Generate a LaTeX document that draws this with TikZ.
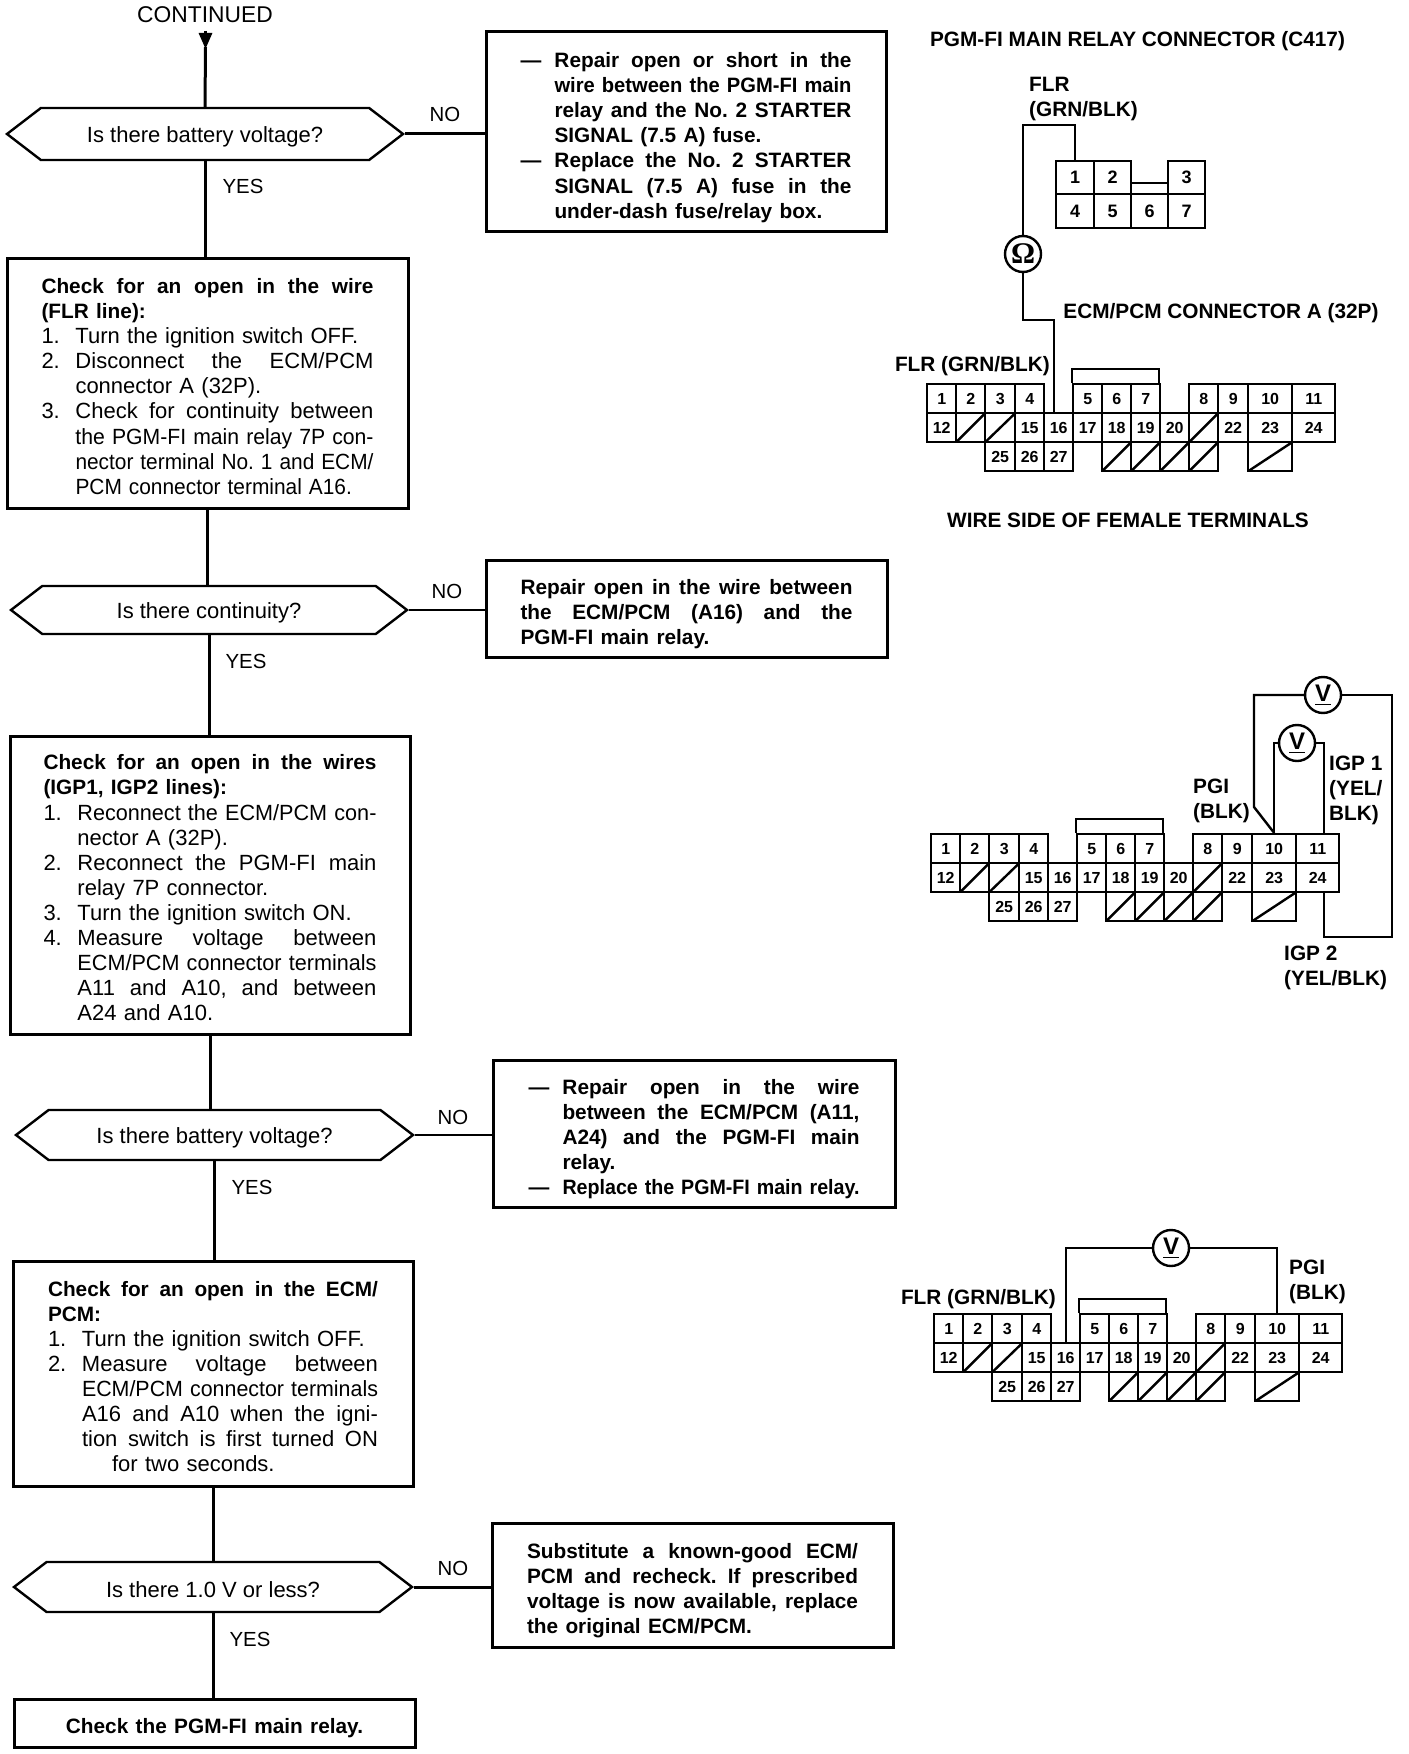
\documentclass[tikz,border=0pt]{standalone}
\usepackage{fontspec}
\setmainfont{Liberation Sans}
\newfontfamily\meterfont{Liberation Serif}
\frenchspacing
\usetikzlibrary{shapes.symbols,arrows.meta}

\newsavebox{\linebox}
% set a line to an exact width, widening the spaces or squeezing the line
\newcommand{\fitline}[2]{\leavevmode\sbox{\linebox}{#2}%
  \ifdim\wd\linebox>#1\relax\resizebox{#1}{\height}{\usebox{\linebox}}%
  \else\hbox to #1{\spaceskip=.278em plus 1fil\relax #2}\fi}
\newcommand{\bd}{\fontsize{10.4}{12.55}\selectfont\bfseries}
\newcommand{\fl}[1]{\fitline{\dimexpr\tw\relax}{#1}}
\newcommand{\il}[2]{\makebox[17pt][l]{#1}\fitline{\dimexpr\tw-17pt\relax}{#2}}
\newcommand{\el}[2]{\makebox[17pt][l]{#1}#2}
\newcommand{\squeezed}[3]{\makebox[17pt][l]{#1}\scalebox{#2}[1]{#3}}

% one ECM/PCM 32P connector, nodes are called <prefix>-<terminal>
\newcommand{\ecmconn}[3]{
  \begin{scope}[shift={(#2,#3)},name prefix=#1-]
    \foreach \n/\cx/\cy/\cw in {1/0/0/29,2/29/0/29,3/58/0/30,4/88/0/29,5/146/0/29,6/175/0/29,7/204/0/29,
      8/262/0/29,9/291/0/30,10/321/0/44,11/365/0/43,
      12/0/29/29,15/88/29/29,16/117/29/29,17/146/29/29,18/175/29/29,19/204/29/29,20/233/29/29,
      22/291/29/30,23/321/29/44,24/365/29/43,
      25/58/58/30,26/88/58/29,27/117/58/29}
      \node[term cell,minimum width=\cw*0.5pt] (\n) at (\cx,\cy) {\n};
    \foreach \n/\cx/\cy/\cw in {13/29/29/29,14/58/29/30,21/262/29/29,
      28/175/58/29,29/204/58/29,30/233/58/29,31/262/58/29,32/321/58/44}
      \node[blank cell,minimum width=\cw*0.5pt] (\n) at (\cx,\cy) {};
    \draw (146,0) -- (146,-14) -- (233,-14) -- (233,0);
  \end{scope}
}

\begin{document}
\begin{tikzpicture}[x=0.5pt,y=-0.5pt,line width=1.2pt,
  main box/.style 2 args={rectangle,draw,line width=1.5pt,inner sep=0pt,align=left,text width=#1,
    execute at begin node={\def\tw{#1}\rule{0pt}{#2}\ignorespaces},
    font=\fontsize{11}{12.55}\selectfont},
  dec node/.style={signal,signal to=east and west,signal pointer angle=75,draw,line width=1.2pt,
    inner sep=0pt,execute at begin node={\rule{0pt}{10.5pt}\ignorespaces},
    font=\fontsize{11}{12.55}\selectfont},
  term cell/.style={rectangle,draw,anchor=north west,minimum height=14.5pt,inner sep=0pt,
    font=\fontsize{8}{9}\selectfont\bfseries},
  blank cell/.style={term cell,path picture={\draw (path picture bounding box.south west) -- (path picture bounding box.north east);}},
  relay cell/.style={term cell,font=\fontsize{9}{10}\selectfont\bfseries},
  meter node/.style={circle,draw,fill=white,line width=1.2pt,minimum size=18pt,inner sep=0pt,
    font=\fontsize{12}{12}\selectfont\bfseries},
  wire label/.style={inner sep=0pt,align=left,font=\fontsize{10.4}{12.5}\selectfont\bfseries},
  answer label/.style={inner sep=0pt,font=\fontsize{10.2}{12}\selectfont}]

  \useasboundingbox (0,0) rectangle (1408,1754);

  % flow chart
  \node[answer label,font=\fontsize{11.4}{12}\selectfont] (cont) at (205,15) {CONTINUED};
  \coordinate (d0) at (205.5,31);
  \coordinate (d00) at (205.5,47);

  \node[dec node,minimum width=198pt,minimum height=26pt] (q1) at (205,134) {Is there battery voltage?};
  \node[main box={165.5pt}{13pt},minimum width=200pt,minimum height=100pt] (no1) at (686,132) {\bd
    \il{---}{Repair open or short in the}\\
    \il{}{wire between the PGM-FI main}\\
    \il{}{relay and the No. 2 STARTER}\\
    \el{}{SIGNAL (7.5 A) fuse.}\\
    \il{---}{Replace the No. 2 STARTER}\\
    \il{}{SIGNAL (7.5 A) fuse in the}\\
    \el{}{under-dash fuse/relay box.}};
  \node[main box={166pt}{10.5pt},minimum width=200.5pt,minimum height=124.5pt] (b2) at (207.5,383.5) {
    {\bd\fl{Check for an open in the wire}}\\
    {\bd(FLR line):}\\
    \el{1.}{Turn the ignition switch OFF.}\\
    \il{2.}{Disconnect the ECM/PCM}\\
    \el{}{connector A (32P).}\\
    \il{3.}{Check for continuity between}\\
    \il{}{the PGM-FI main relay 7P con-}\\
    \il{}{nector terminal No. 1 and ECM/}\\
    \squeezed{}{0.95}{PCM connector terminal A16.}};

  \node[dec node,minimum width=198pt,minimum height=24pt] (q2) at (209,610) {Is there continuity?};
  \node[main box={166pt}{13pt},minimum width=200.5pt,minimum height=48.5pt] (no2) at (686.5,608.5) {\bd
    \fl{Repair open in the wire between}\\
    \fl{the ECM/PCM (A16) and the}\\
    PGM-FI main relay.};
  \node[main box={166.5pt}{10.5pt},minimum width=200pt,minimum height=149pt] (b3) at (210,885) {
    {\bd\fl{Check for an open in the wires}}\\
    {\bd(IGP1, IGP2 lines):}\\
    \il{1.}{Reconnect the ECM/PCM con-}\\
    \el{}{nector A (32P).}\\
    \il{2.}{Reconnect the PGM-FI main}\\
    \el{}{relay 7P connector.}\\
    \el{3.}{Turn the ignition switch ON.}\\
    \il{4.}{Measure voltage between}\\
    \il{}{ECM/PCM connector terminals}\\
    \il{}{A11 and A10, and between}\\
    \el{}{A24 and A10.}};

  \node[dec node,minimum width=198.5pt,minimum height=25pt] (q3) at (214.5,1135) {Is there battery voltage?};
  \node[main box={165.5pt}{13pt},minimum width=201pt,minimum height=73.5pt] (no3) at (694,1133.5) {\bd
    \il{---}{Repair open in the wire}\\
    \il{}{between the ECM/PCM (A11,}\\
    \il{}{A24) and the PGM-FI main}\\
    \el{}{relay.}\\
    \il{---}{Replace the PGM-FI main relay.}};
  \node[main box={165pt}{10.5pt},minimum width=200pt,minimum height=112.5pt] (b4) at (213,1373.5) {
    {\bd\fl{Check for an open in the ECM/}}\\
    {\bd PCM:}\\
    \el{1.}{Turn the ignition switch OFF.}\\
    \il{2.}{Measure voltage between}\\
    \il{}{ECM/PCM connector terminals}\\
    \il{}{A16 and A10 when the igni-}\\
    \il{}{tion switch is first turned ON}\\
    \hspace*{32pt}for two seconds.};

  \node[dec node,minimum width=199pt,minimum height=25pt] (q4) at (213,1587) {Is there 1.0 V or less?};
  \node[main box={165.5pt}{13pt},minimum width=200.5pt,minimum height=62pt] (no4) at (692.5,1585) {\bd
    \fl{Substitute a known-good ECM/}\\
    \fl{PCM and recheck. If prescribed}\\
    \fl{voltage is now available, replace}\\
    the original ECM/PCM.};
  \node[main box={165.5pt}{13pt},minimum width=200.5pt,minimum height=24pt,align=center] (b5) at (214.5,1723) {\bd Check the PGM-FI main relay.};

  \node[answer label] (n1) at (445,114) {NO};
  \node[answer label] (y1) at (243,186) {YES};
  \node[answer label] (n2) at (447,591) {NO};
  \node[answer label] (y2) at (246,661) {YES};
  \node[answer label] (n3) at (453,1117) {NO};
  \node[answer label] (y3) at (252,1187) {YES};
  \node[answer label] (n4) at (453,1568) {NO};
  \node[answer label] (y4) at (250,1639) {YES};

  \path[line width=1.5pt]
  (d0) edge [-{Triangle[length=8pt,width=6.5pt]},shorten >=-1pt] (d00)
  (d00) edge [] (q1.north)

  (q1.south) edge [] (q1.south |- b2.north)
  (q1.east)  edge [] (q1.east -| no1.west)
  (b2.south) edge [] (b2.south |- q2.north)
  (q2.south) edge [] (q2.south |- b3.north)
  (b3.south) edge [] (b3.south |- q3.north)
  (q3.south) edge [] (q3.south |- b4.north)
  (b4.south) edge [] (q4.north)
  (q4.south) edge [] (q4.south |- b5.north)
  (q4.east)  edge [] (q4.east -| no4.west);
  \path[line width=1pt]
  (q2.east)  edge [] (q2.east -| no2.west)
  (q3.east)  edge [] (q3.east -| no3.west);

  % relay connector
  \node[wire label] (t1) at (1137.5,41) {PGM-FI MAIN RELAY CONNECTOR (C417)};
  \node[wire label,anchor=west] (t2) at (1028,99) {FLR\\(GRN/BLK)};
  \node[wire label] (t3) at (1221,313) {ECM/PCM CONNECTOR A (32P)};
  \node[wire label,anchor=east] (t4) at (1051,366) {FLR (GRN/BLK)};
  \node[wire label] (t5) at (1128,520) {WIRE SIDE OF FEMALE TERMINALS};

  \foreach \n/\cx/\cy/\cw/\ch in {1/1055/160/38/33,2/1093/160/37/33,3/1167/160/37/33,
    4/1055/193/38/34,5/1093/193/37/34,6/1130/193/37/34,7/1167/193/37/34}
    \node[relay cell,minimum width=\cw*0.5pt,minimum height=\ch*0.5pt] (r\n) at (\cx,\cy) {\n};
  \draw[line width=1pt] ([yshift=-2.5pt]r2.east) -- ([yshift=-2.5pt]r3.west);

  \ecmconn{a}{926}{383}

  \node[meter node] (om) at (1023,254) {\fontsize{15}{15}\selectfont\meterfont\bfseries Ω};
  \coordinate (d1) at (1023,125);
  \coordinate (d2) at (1054,320);
  \draw (r1.north) |- (d1) -- (om.north);
  \draw (om.south) |- (d2) -- (d2 |- a-16.north);

  % first voltage check
  \ecmconn{b}{930}{833}

  \node[wire label,anchor=west] (t6) at (1192,801) {PGI\\(BLK)};
  \node[wire label,anchor=west] (t7) at (1328,790) {IGP 1\\(YEL/\\BLK)};
  \node[wire label,anchor=west] (t8) at (1283,968) {IGP 2\\(YEL/BLK)};

  \node[meter node] (v1) at (1323,695) {\underline{V}};
  \node[meter node] (v2) at (1297,743) {\underline{V}};
  \coordinate (d3) at (1254,695);
  \coordinate (d4) at (1254,807);
  \coordinate (d5) at (1392,937);
  \draw (v1.west) -- (d3) -- (d4) -- (b-10.north);
  \draw (v2.west) -| (b-10.north);
  \draw (v2.east) -| ([xshift=3pt]b-11.north);
  \draw (v1.east) -| (d5) -| ([xshift=3pt]b-24.south);

  % second voltage check
  \ecmconn{c}{933}{1313}

  \node[wire label,anchor=east] (t9) at (1057,1299) {FLR (GRN/BLK)};
  \node[wire label,anchor=west] (t10) at (1288,1282) {PGI\\(BLK)};

  \node[meter node] (v3) at (1171,1248) {\underline{V}};
  \draw (v3.west) -| (c-16.north);
  \draw (v3.east) -| (c-10.north);
\end{tikzpicture}
\end{document}
